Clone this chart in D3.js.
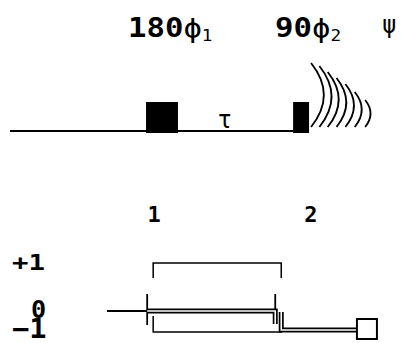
<!DOCTYPE html>
<html><head><meta charset="utf-8">
<script src="https://cdn.jsdelivr.net/npm/d3@7"></script>
<style>body{margin:0;background:#fff}svg{display:block}</style>
</head><body>
<script>
// ---- data ----
const pulseNames = ["180", "90"];
const pulsePhases = ["1", "2"];
const pulseStart = [35.8, 74.5];   // time units
const pulseEnd = [44.2, 78.7];
const delayLabel = "τ";
const delayTime = 56.5;
const fidTops = [63, 66, 72, 78, 84, 92, 100];  // y of top of each echo arc
const fidStarts = [0, 1.6, 3.2, 4.9, 6.6, 8.4, 10.4];  // time after pulse 2
const levels = [1, 0, -1];
const levelLabels = ["+1", "0", "\u22121"];
const stepLabels = ["1", "2"];
const stepTimes = [36.1, 69.8];
const stepLabelTimes = [37.9, 79.2];
const detectTime = 91.3;

const W = 401, H = 343;
const svg = d3.select("body").append("svg").attr("width", W).attr("height", H);
const x = d3.scaleLinear().domain([0, 100]).range([10, 390]);
const baseY = 131, pulseH = 29;
const mono = "'DejaVu Sans Mono', monospace";

// baseline
svg.append("line").attr("x1", x(0)).attr("x2", x(pulseStart[1])).attr("y1", baseY).attr("y2", baseY)
  .attr("stroke", "#000").attr("stroke-width", 2);
// pulses
svg.selectAll("rect.p").data(pulseStart).join("rect")
  .attr("x", (d) => x(d)).attr("width", (d, i) => x(pulseEnd[i]) - x(d))
  .attr("y", baseY - pulseH).attr("height", pulseH + 2).attr("fill", "#000");
// labels
const lab = svg.selectAll("text.pl").data(pulseNames).join("text")
  .attr("transform", (d, i) => `translate(${[128, 275][i]},37) scale(1.18,1)`)
  .attr("font-family", mono).attr("font-weight", "bold").attr("font-size", 26);
lab.append("tspan").text((d) => d);
lab.append("tspan").attr("font-weight", "normal").text("\u03d5");
lab.append("tspan").attr("font-size", 15).attr("font-weight", "normal").attr("dy", 4).text((d, i) => pulsePhases[i]);
svg.append("text").attr("x", 382).attr("y", 33).attr("font-family", mono).attr("font-size", 24).text("\u03c8");
svg.append("text").attr("x", x(delayTime)).attr("y", 128).attr("text-anchor", "middle")
  .attr("font-family", mono).attr("font-size", 24).text(delayLabel);

// FID arcs
const x2 = x(pulseEnd[1]);
const fw = d3.scaleLinear().domain([0, 10]).range([0, 52]);
svg.selectAll("path.fid").data(fidTops).join("path")
  .attr("d", (t, i) => {
    const sx = x2 + fw(fidStarts[i]) + 2, bot = 127;
    const mid = (t + bot) / 2, bulge = (bot - t) * 0.2;
    return `M${sx},${t} Q${sx + bulge * 2},${mid} ${sx},${bot}`;
  })
  .attr("fill", "none").attr("stroke", "#000").attr("stroke-width", 1.8);

// coherence diagram
const ly = d3.scaleOrdinal().domain(levels).range([263, 311, 332]);
const lvPos = [[12, 270, 22, 1.25], [31, 318, 24, 1.05], [12, 338, 26, 1.1]];
svg.selectAll("text.lv").data(levelLabels).join("text")
  .attr("transform", (d, i) => `translate(${lvPos[i][0]},${lvPos[i][1]}) scale(${lvPos[i][3]},1)`)
  .attr("font-family", mono).attr("font-weight", "bold").attr("font-size", (d, i) => lvPos[i][2])
  .text((d) => d);
svg.selectAll("text.st").data(stepLabels).join("text")
  .attr("x", (d, i) => x(stepLabelTimes[i])).attr("y", 222).attr("text-anchor", "middle")
  .attr("font-family", mono).attr("font-weight", "bold").attr("font-size", 22).text((d) => d);

const c1 = x(stepTimes[0]), c2 = x(stepTimes[1]);
// brackets for +1 and -1
svg.append("path").attr("d", `M${c1 + 6},278 V${ly(1)} H${c2 + 6} V278`).attr("fill", "none").attr("stroke", "#000").attr("stroke-width", 1.5);
svg.append("path").attr("d", `M${c1 + 6},316 V${ly(-1)} H${c2 + 6} V316`).attr("fill", "none").attr("stroke", "#000").attr("stroke-width", 1.5);
// pulse ticks
[c1, c2].forEach((c, i) => svg.append("line").attr("x1", c).attr("x2", c).attr("y1", 294).attr("y2", i ? 316 : 325).attr("stroke", "#000").attr("stroke-width", 1.8));
// level 0 lead-in
svg.append("line").attr("x1", 107).attr("x2", c1).attr("y1", ly(0)).attr("y2", ly(0)).attr("stroke", "#000").attr("stroke-width", 2);
// selected pathway (double line)
const pth = `M${c1},${ly(0)} H${c2} V324 M${c2 + 6},312 V${ly(-1) - 2} H${x(detectTime)}`;
svg.append("path").attr("d", pth).attr("fill", "none").attr("stroke", "#000").attr("stroke-width", 5);
svg.append("path").attr("d", pth).attr("fill", "none").attr("stroke", "#fff").attr("stroke-width", 1.6);
// detection square
svg.append("rect").attr("x", x(detectTime)).attr("y", 319).attr("width", 20).attr("height", 20)
  .attr("fill", "#fff").attr("stroke", "#000").attr("stroke-width", 2);
</script>
</body></html>
